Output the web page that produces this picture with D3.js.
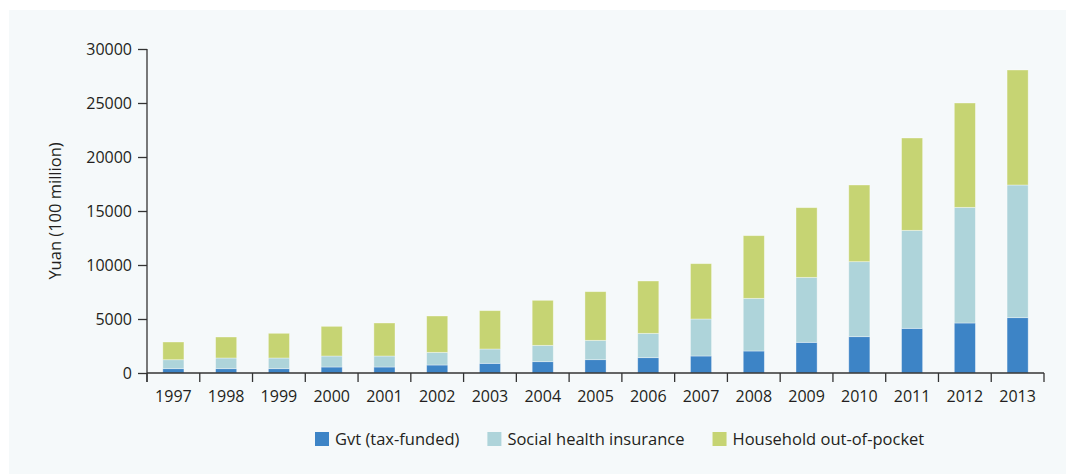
<!DOCTYPE html>
<html>
<head>
<meta charset="utf-8">
<script src="https://cdn.jsdelivr.net/npm/d3@7"></script>
<style>
  html, body { margin: 0; padding: 0; background: #ffffff; }
  svg { display: block; }
  text { font-family: "Open Sans", "Noto Sans", sans-serif; fill: #231f20; }
</style>
</head>
<body>
<svg id="chart" width="1066" height="474"></svg>
<script>
const years = ["1997","1998","1999","2000","2001","2002","2003","2004","2005","2006","2007","2008","2009","2010","2011","2012","2013"];
const gvt = [400, 400, 400, 555, 555, 740, 895, 1049, 1235, 1420, 1574, 2037, 2840, 3364, 4136, 4630, 5124];
const shi = [830, 990, 990, 1019, 1019, 1174, 1327, 1513, 1790, 2253, 3426, 4877, 6018, 6944, 9074, 10710, 12284];
const oop = [1640, 1943, 2286, 2746, 3056, 3364, 3550, 4168, 4506, 4845, 5123, 5802, 6450, 7100, 8550, 9660, 10648];
const seriesNames = ["Gvt (tax-funded)", "Social health insurance", "Household out-of-pocket"];
const seriesKeys = ["gvt", "shi", "oop"];
const colors = ["#3d84c6", "#aed4da", "#c6d473"];
const yTicks = [0, 5000, 10000, 15000, 20000, 25000, 30000];
const yLabel = "Yuan (100 million)";

(function () {
const svg = d3.select("#chart");
svg.append("rect").attr("x", 9).attr("y", 10).attr("width", 1057).attr("height", 464).attr("fill", "#f5f9fa");

const mLeft = 147, mRight = 1044, mTop = 49, mBottom = 373;

const rows = years.map((yr, i) => ({year: yr, gvt: gvt[i], shi: shi[i], oop: oop[i]}));
const stack = d3.stack().keys(seriesKeys)(rows);

const x = d3.scaleBand().domain(years).range([mLeft, mRight]).paddingInner(0.6).paddingOuter(0.3);
const y = d3.scaleLinear().domain([0, 30000]).range([mBottom, mTop]);
const color = d3.scaleOrdinal().domain(seriesKeys).range(colors);

// bars
svg.append("g").selectAll("g").data(stack).join("g")
  .attr("fill", d => color(d.key))
  .selectAll("rect").data(d => d).join("rect")
  .attr("x", d => x(d.data.year))
  .attr("width", x.bandwidth())
  .attr("y", d => y(d[1]))
  .attr("height", d => y(d[0]) - y(d[1]))
  .attr("stroke", "rgba(255,255,255,0.45)")
  .attr("stroke-width", 0.8);

// y axis
const yAxis = d3.axisLeft(y).tickValues(yTicks).tickFormat(d3.format("d")).tickSize(9).tickPadding(6);
const gy = svg.append("g").attr("transform", `translate(${mLeft},0)`).call(yAxis);
gy.select(".domain").attr("stroke", "#333").attr("stroke-width", 1.3).attr("d", `M0,${mTop}V${mBottom + 9}`);
gy.selectAll(".tick line").attr("stroke", "#333").attr("stroke-width", 1.3);
gy.selectAll(".tick text").attr("font-size", 16).attr("fill", "#231f20").style("font-family", '"Open Sans", sans-serif');

// x axis
const step = x.step();
const boundaries = years.map(d => x(d) - (step - x.bandwidth()) / 2).concat([mRight]);
const gx = svg.append("g");
gx.append("line").attr("x1", mLeft).attr("x2", mRight).attr("y1", mBottom).attr("y2", mBottom)
  .attr("stroke", "#333").attr("stroke-width", 1.3);
gx.selectAll("line.tk").data(boundaries).join("line").attr("class", "tk")
  .attr("x1", d => d).attr("x2", d => d).attr("y1", mBottom).attr("y2", mBottom + 9)
  .attr("stroke", "#333").attr("stroke-width", 1.3);
gx.selectAll("text").data(years).join("text")
  .attr("x", d => x(d) + x.bandwidth() / 2)
  .attr("y", 402)
  .attr("text-anchor", "middle")
  .attr("font-size", 16)
  .text(d => d);

// y label
svg.append("text")
  .attr("transform", `translate(55,${(mTop + mBottom) / 2}) rotate(-90)`)
  .attr("text-anchor", "middle")
  .attr("dy", "0.35em")
  .attr("font-size", 16.5)
  .text(yLabel);

// legend
const lg = svg.append("g");
let lx = 315;
seriesNames.forEach((name, i) => {
  lg.append("rect").attr("x", lx).attr("y", 432).attr("width", 14).attr("height", 14).attr("fill", colors[i]);
  const t = lg.append("text").attr("x", lx + 20).attr("y", 444.5).attr("font-size", 16.5).text(name);
  lx = lx + 20 + t.node().getComputedTextLength() + 28;
});
})();
</script>
</body>
</html>
